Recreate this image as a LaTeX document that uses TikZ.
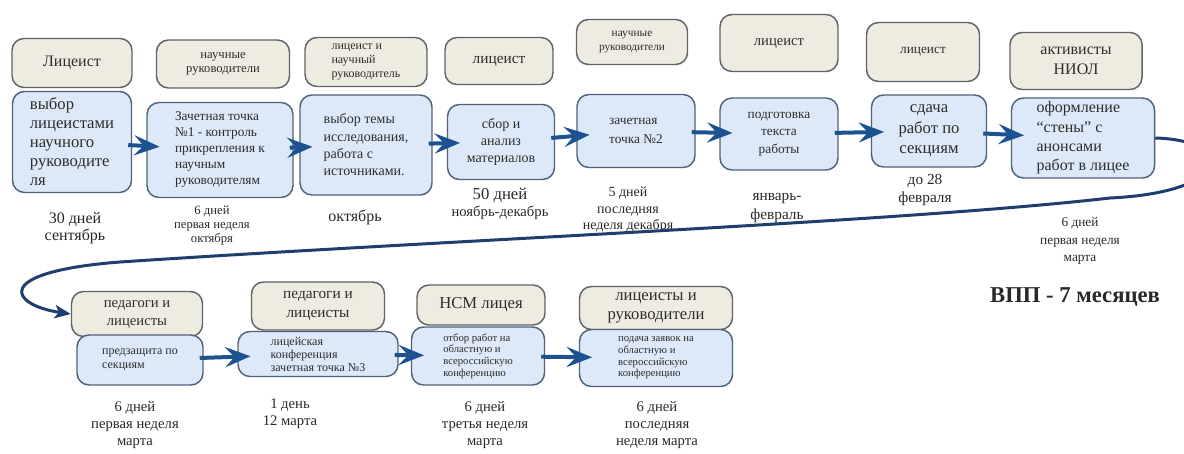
\documentclass[tikz,border=0pt]{standalone}
\usepackage{fontspec}
\setmainfont{Liberation Serif}
\usetikzlibrary{arrows.meta}

\tikzset{every picture/.style={line width=0.75pt}}
\tikzset{
  rolebox/.style={draw={rgb, 255:red, 96; green, 100; blue, 104 }, fill={rgb, 255:red, 238; green, 236; blue, 224 }, rounded corners=9pt, line width=1.1pt, inner sep=1pt, align=center, text={rgb, 255:red, 45; green, 45; blue, 45 }},
  taskbox/.style={draw={rgb, 255:red, 78; green, 98; blue, 122 }, fill={rgb, 255:red, 221; green, 233; blue, 248 }, rounded corners=9pt, line width=1.1pt, inner sep=1pt, text={rgb, 255:red, 45; green, 45; blue, 45 }},
  termtext/.style={align=center, inner sep=0.75pt, text={rgb, 255:red, 40; green, 40; blue, 40 }},
  nextarrow/.style={draw={rgb, 255:red, 28; green, 82; blue, 145 }, line width=3pt, -{Stealth[length=19pt,width=15pt,inset=7pt]}, shorten >=-10pt, shorten <=-3pt},
  looparrow/.style={draw={rgb, 255:red, 30; green, 62; blue, 110 }, line width=2.25pt, -{Stealth[length=12pt,width=10pt,inset=3pt]}}
}

\begin{document}
\begin{tikzpicture}[x=0.75pt,y=0.75pt,yscale=-1,xscale=1]
\useasboundingbox (0,0) rectangle (1184,453);

%Shape: Rounded Rect (who, top row)
\draw (72,63) node [rolebox, minimum width=90pt, minimum height=36.75pt, font=\fontsize{12}{14}\selectfont] (t1) {Лицеист};
\draw (223,64) node [rolebox, minimum width=99.75pt, minimum height=36pt, font=\fontsize{9.5}{11}\selectfont] (t2) {научные\\руководители};
\draw (366,62) node [rolebox, minimum width=91.5pt, minimum height=36.75pt, font=\fontsize{9}{10.5}\selectfont, align=left] (t3) {лицеист и\\научный\\руководитель};
\draw (499,61) node [rolebox, minimum width=81pt, minimum height=35.25pt, font=\fontsize{11.5}{13}\selectfont] (t4) {лицеист};
\draw (632,42) node [rolebox, minimum width=83.25pt, minimum height=33.75pt, font=\fontsize{8.5}{10.5}\selectfont] (t5) {научные\\руководители};
\draw (779,43) node [rolebox, minimum width=88.5pt, minimum height=42.75pt, font=\fontsize{11}{13}\selectfont] (t6) {лицеист};
\draw (923,52) node [rolebox, minimum width=84.75pt, minimum height=44.25pt, font=\fontsize{10}{12}\selectfont] (t7) {лицеист};
\draw (1076,61) node [rolebox, minimum width=99pt, minimum height=42.75pt, font=\fontsize{12}{15}\selectfont] (t8) {активисты\\НИОЛ};

%Shape: Rounded Rect (what, top row)
\draw (72,142) node [taskbox, minimum width=89.25pt, minimum height=75.75pt, font=\fontsize{12.5}{14.25}\selectfont, align=left] (m1) {выбор\\лицеистами\\научного\\руководите\\ля};
\draw (220,150) node [taskbox, minimum width=109.5pt, minimum height=71.25pt, font=\fontsize{10}{12}\selectfont, align=left] (m2) {Зачетная точка\\№1 - контроль\\прикрепления к\\научным\\руководителям};
\draw (366,145) node [taskbox, minimum width=99pt, minimum height=75pt, font=\fontsize{10.5}{13}\selectfont, align=left] (m3) {выбор темы\\исследования,\\работа с\\источниками.};
\draw (501,142) node [taskbox, minimum width=80.25pt, minimum height=56.25pt, font=\fontsize{10.5}{12.5}\selectfont, align=center] (m4) {сбор и\\анализ\\материалов};
\draw (636,131) node [taskbox, minimum width=88.5pt, minimum height=54.75pt, font=\fontsize{10}{14}\selectfont, align=left] (m5) {зачетная\\точка №2};
\draw (779,134) node [taskbox, minimum width=88.5pt, minimum height=54pt, font=\fontsize{10}{13}\selectfont, align=center] (m6) {подготовка\\текста\\работы};
\draw (929,131) node [taskbox, minimum width=86.25pt, minimum height=54pt, font=\fontsize{12.5}{15.5}\selectfont, align=center] (m7) {сдача\\работ по\\секциям};
\draw (1083,138) node [taskbox, minimum width=107.25pt, minimum height=60pt, font=\fontsize{12}{14.5}\selectfont, align=left] (m8) {оформление\\“стены” с\\анонсами\\работ в лицее};

%Shape: Rounded Rect (who, bottom row)
\draw (137,314) node [rolebox, minimum width=98.25pt, minimum height=33.75pt, font=\fontsize{11}{13.5}\selectfont] (t9) {педагоги и\\лицеисты};
\draw (318,306) node [rolebox, minimum width=99.75pt, minimum height=36pt, font=\fontsize{11.5}{14}\selectfont] (t10) {педагоги и\\лицеисты};
\draw (481,305) node [rolebox, minimum width=96pt, minimum height=30pt, font=\fontsize{12.5}{14}\selectfont] (t11) {НСМ лицея};
\draw (656,308) node [rolebox, minimum width=114.75pt, minimum height=32.25pt, font=\fontsize{12.5}{14.5}\selectfont] (t12) {лицеисты и\\руководители};

%Shape: Rounded Rect (what, bottom row)
\draw (140,360) node [taskbox, minimum width=94.5pt, minimum height=37.5pt, font=\fontsize{9}{10.5}\selectfont, align=left] (m9) {предзащита по\\секциям};
\draw (318,354) node [taskbox, minimum width=120pt, minimum height=33.75pt, font=\fontsize{9}{9.75}\selectfont, align=left] (m10) {лицейская\\конференция\\зачетная точка №3};
\draw (478,356) node [taskbox, minimum width=99.75pt, minimum height=43.5pt, font=\fontsize{8}{8.75}\selectfont, align=left] (m11) {отбор работ на\\областную и\\всероссийскую\\конференцию};
\draw (656,358) node [taskbox, minimum width=114.75pt, minimum height=42.75pt, font=\fontsize{8}{8.75}\selectfont, align=left] (m12) {подача заявок на\\областную и\\всероссийскую\\конференцию};

% Text Node (terms)
\draw (75,228) node [termtext, font=\fontsize{12}{13}\selectfont] (l1) {30 дней\\сентябрь};
\draw (212,226) node [termtext, font=\fontsize{9.5}{10.5}\selectfont] (l2) {6 дней\\первая неделя\\октября};
\draw (355,217) node [termtext, font=\fontsize{12}{13}\selectfont] (l3) {октябрь};
\draw (500,204) node [termtext, font=\fontsize{11}{13}\selectfont] (l4) {\fontsize{12.5}{13}\selectfont 50 дней\\ноябрь-декабрь};
\draw (628,210) node [termtext, font=\fontsize{10.5}{12.5}\selectfont] (l5) {5 дней\\последняя\\неделя декабря};
\draw (777,208) node [termtext, font=\fontsize{11.5}{14}\selectfont] (l6) {январь-\\февраль};
\draw (925,190) node [termtext, font=\fontsize{11.5}{13.5}\selectfont] (l7) {до 28\\февраля};
\draw (1080,241) node [termtext, font=\fontsize{10}{13}\selectfont] (l8) {6 дней\\первая неделя\\марта};
\draw (135,425) node [termtext, font=\fontsize{11}{12.75}\selectfont] (l9) {6 дней\\первая неделя\\марта};
\draw (290,414) node [termtext, font=\fontsize{11}{12.5}\selectfont] (l10) {1 день\\12 марта};
\draw (485,425) node [termtext, font=\fontsize{11}{12.75}\selectfont] (l11) {6 дней\\третья неделя\\марта};
\draw (657,425) node [termtext, font=\fontsize{11}{12.75}\selectfont] (l12) {6 дней\\последняя\\неделя марта};

% Text Node (total)
\draw (1075,297) node [termtext, font=\fontsize{17}{19}\selectfont\bfseries] (total) {ВПП - 7 месяцев};

%Straight Lines [arrows]
\draw [nextarrow] (m1) -- (m2);
\draw [nextarrow] (m2) -- (m3);
\draw [nextarrow] (m3) -- (m4);
\draw [nextarrow] (m4) -- (m5);
\draw [nextarrow] (m5) -- (m6);
\draw [nextarrow] (m6) -- (m7);
\draw [nextarrow] (m7) -- (m8);
\draw [nextarrow] (m9) -- (m10);
\draw [nextarrow] (m10) -- (m11);
\draw [nextarrow] (m11) -- (m12);

%Curve Lines [return to second row]
\draw [looparrow] (m8.east) .. controls (1235,140) and (1235,192) .. (1110,198) .. controls (900,222) and (450,240) .. (120,262) .. controls (-10,272) and (10,305) .. (t9.west);

\end{tikzpicture}
\end{document}
